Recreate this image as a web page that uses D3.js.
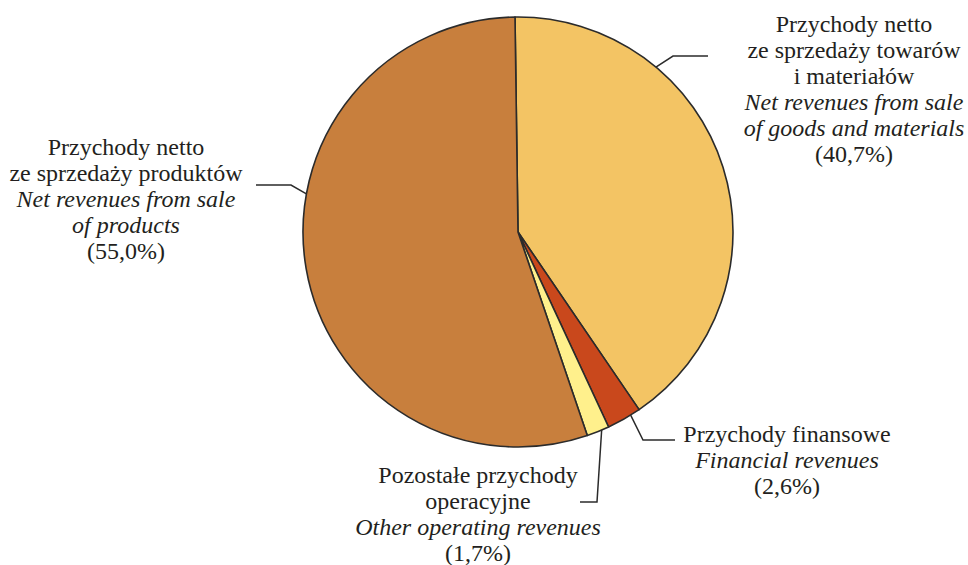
<!DOCTYPE html>
<html>
<head>
<meta charset="utf-8">
<script src="https://cdn.jsdelivr.net/npm/d3@7"></script>
<style>
  body { margin: 0; background: #fff; }
  text { font-family: "Liberation Serif", "Times New Roman", serif; fill: #231f20; }
</style>
</head>
<body>
<div id="chart"></div>
<script>
// Data
const categories = ["goods", "financial", "other", "products"];
const shares = [40.7, 2.6, 1.7, 55.0];
const colors = ["#f3c464", "#c9481c", "#fff08c", "#c87f3d"];
const labelLines = [
  ["Przychody netto", "ze sprzedaży towarów", "i materiałów", "Net revenues from sale", "of goods and materials", "(40,7%)"],
  ["Przychody finansowe", "Financial revenues", "(2,6%)"],
  ["Pozostałe przychody", "operacyjne", "Other operating revenues", "(1,7%)"],
  ["Przychody netto", "ze sprzedaży produktów", "Net revenues from sale", "of products", "(55,0%)"]
];
const italicLines = [[3, 4], [1], [2], [2, 3]];

// Layout of labels and leader lines
const labelLayout = [
  { x: 854, y: 32, anchorDeg: 39.9, elbow: [673, 56], end: [708, 56] },
  { x: 787, y: 442, anchorDeg: 148.4, elbow: [643, 440], end: [675, 440] },
  { x: 478, y: 483, anchorDeg: 157.1, elbow: [597, 502], end: [580, 502] },
  { x: 126, y: 155, anchorDeg: 280.2, elbow: [291, 185], end: [256, 185] }
];

const width = 968, height = 565;
const cx = 518, cy = 232, radius = 215;
const lineHeight = 26;
const startAngle = -0.8 * Math.PI / 180;

const svg = d3.select("#chart")
  .append("svg")
  .attr("width", width)
  .attr("height", height);

const pie = d3.pie()
  .sort(null)
  .value(d => d)
  .startAngle(startAngle)
  .endAngle(startAngle + 2 * Math.PI);

const arc = d3.arc().innerRadius(0).outerRadius(radius);

const g = svg.append("g").attr("transform", `translate(${cx},${cy})`);

g.selectAll("path.slice")
  .data(pie(shares))
  .enter()
  .append("path")
  .attr("class", "slice")
  .attr("d", arc)
  .attr("fill", (d, i) => colors[i])
  .attr("stroke", "#2b2b2b")
  .attr("stroke-width", 1.6)
  .attr("stroke-linejoin", "round");

// Leader lines
const line = d3.line();
labelLayout.forEach((l, i) => {
  const a = l.anchorDeg * Math.PI / 180;
  const start = [cx + radius * Math.sin(a), cy - radius * Math.cos(a)];
  svg.append("path")
    .attr("d", line([start, l.elbow, l.end]))
    .attr("fill", "none")
    .attr("stroke", "#2b2b2b")
    .attr("stroke-width", 1.5);
});

// Labels
labelLines.forEach((lines, i) => {
  const l = labelLayout[i];
  const t = svg.append("text")
    .attr("text-anchor", "middle")
    .style("font-size", "24px");
  lines.forEach((s, j) => {
    t.append("tspan")
      .attr("x", l.x)
      .attr("y", l.y + j * lineHeight)
      .style("font-style", italicLines[i].includes(j) ? "italic" : "normal")
      .text(s);
  });
});
</script>
</body>
</html>
